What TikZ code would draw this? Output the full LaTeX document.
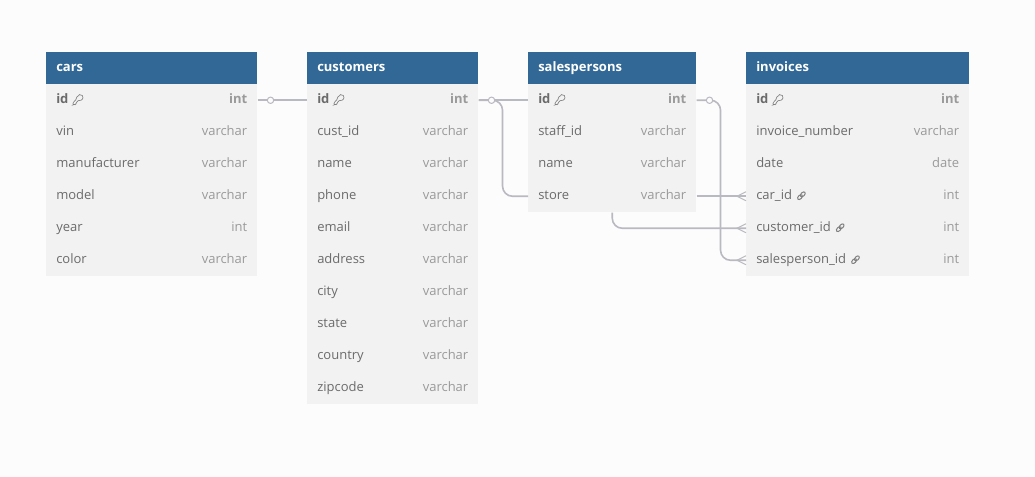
\documentclass[tikz,border=0pt]{standalone}
\usepackage{fontspec}
\setmainfont{Open Sans}
\definecolor{pagebg}{HTML}{FCFCFC}
\definecolor{headblue}{HTML}{316896}
\definecolor{rowbg}{HTML}{F2F2F2}
\definecolor{nametxt}{HTML}{6B6B6B}
\definecolor{typetxt}{HTML}{9A9A9A}
\definecolor{wire}{HTML}{B9B9C1}
\definecolor{iconcol}{HTML}{808080}
\tikzset{
  x=0.75pt,y=-0.75pt,
  headbox/.style={fill=headblue,draw=none,inner sep=0pt,anchor=north west,minimum height=24pt},
  rowbox/.style={fill=rowbg,draw=none,inner sep=0pt,anchor=north west,minimum height=24pt},
  headtxt/.style={anchor=base west,inner sep=0pt,text=white,font=\fontsize{9.75}{12}\selectfont\bfseries},
  nametxtst/.style={anchor=base west,inner sep=0pt,text=nametxt,font=\fontsize{9.75}{12}\selectfont},
  typetxtst/.style={anchor=base east,inner sep=0pt,text=typetxt,font=\fontsize{9.75}{12}\selectfont},
  pkname/.style={nametxtst,font=\fontsize{9.75}{12}\selectfont\bfseries},
  pktype/.style={typetxtst,font=\fontsize{9.75}{12}\selectfont\bfseries},
  wireline/.style={draw=wire,line width=1.2pt,rounded corners=7.5pt},
  crowline/.style={draw=wire,line width=0.75pt},
  ringmark/.style={circle,draw=wire,fill=pagebg,line width=0.75pt,minimum size=4.8pt,inner sep=0pt},
  keyicon/.pic={
    \draw[iconcol,line width=0.5pt,rounded corners=0.6pt] (1.4,-4.4) .. controls (3.4,-5.6) and (5.6,-3.6) .. (4.6,-1.2) .. controls (3.8,0.6) and (1.8,0.8) .. (0.8,0.4) -- (-2,3) -- (-2,4.6) -- (-3.8,4.6) -- (-4.8,5.2) -- (-5.2,3.2) -- (-1.6,-0.6) .. controls (-2,-2.2) and (-0.4,-3.8) .. (1.4,-4.4) -- cycle;
  },
  linkicon/.pic={
    \draw[iconcol,line width=0.75pt,rotate=45] (-2,0) ellipse[x radius=2.9,y radius=1.8];
    \draw[iconcol,line width=0.75pt,rotate=45] (2,0) ellipse[x radius=2.9,y radius=1.8];
  }
}
% #1 table id, #2 left x, #3 top y, #4 width, #5 title
\newcommand{\tablehead}[5]{%
  \node[headbox,minimum width=#4*0.75pt] (#1-h) at (#2,#3) {};
  \node[headtxt] (#1-t) at ([xshift=7.5pt,yshift=-2.4pt]#1-h.west) {#5};
}
% #1 table id, #2 left x, #3 top y, #4 width, #5 row number, #6 name style, #7 type style, #8 name, #9 type
\newcommand{\tablerow}[9]{%
  \node[rowbox,minimum width=#4*0.75pt] (#1-r#5) at (#2,#3+32*#5) {};
  \node[#6] (#1-n#5) at ([xshift=7.5pt,yshift=-2.6pt]#1-r#5.west) {#8};
  \node[#7] (#1-y#5) at ([xshift=-7.5pt,yshift=-2.6pt]#1-r#5.east) {#9};
}
\begin{document}
\begin{tikzpicture}
\useasboundingbox[fill=pagebg] (0,0) rectangle (1035,477);

% cars
\tablehead{cars}{46}{52}{211}{cars}
\tablerow{cars}{46}{52}{211}{1}{pkname}{pktype}{id}{int}
\foreach \nm/\ty [count=\i from 2] in {vin/varchar,manufacturer/varchar,model/varchar,year/int,color/varchar}
  {\tablerow{cars}{46}{52}{211}{\i}{nametxtst}{typetxtst}{\nm}{\ty}}

% customers
\tablehead{customers}{307}{52}{171}{customers}
\tablerow{customers}{307}{52}{171}{1}{pkname}{pktype}{id}{int}
\foreach \nm/\ty [count=\i from 2] in {cust\_id/varchar,name/varchar,phone/varchar,email/varchar,address/varchar,city/varchar,state/varchar,country/varchar,zipcode/varchar}
  {\tablerow{customers}{307}{52}{171}{\i}{nametxtst}{typetxtst}{\nm}{\ty}}

% salespersons
\tablehead{sales}{528}{52}{168}{salespersons}
\tablerow{sales}{528}{52}{168}{1}{pkname}{pktype}{id}{int}
\foreach \nm/\ty [count=\i from 2] in {staff\_id/varchar,name/varchar,store/varchar}
  {\tablerow{sales}{528}{52}{168}{\i}{nametxtst}{typetxtst}{\nm}{\ty}}

% invoices
\tablehead{inv}{746}{52}{223}{invoices}
\tablerow{inv}{746}{52}{223}{1}{pkname}{pktype}{id}{int}
\foreach \nm/\ty [count=\i from 2] in {invoice\_number/varchar,date/date,car\_id/int,customer\_id/int,salesperson\_id/int}
  {\tablerow{inv}{746}{52}{223}{\i}{nametxtst}{typetxtst}{\nm}{\ty}}

% icons
\foreach \t in {cars,customers,sales,inv}
  \pic at ([xshift=7pt,yshift=3pt]\t-n1.base east) {keyicon};
\foreach \i in {4,5,6}
  \pic at ([xshift=6.8pt,yshift=3pt]inv-n\i.base east) {linkicon};

% connectors
\draw[wireline] (cars-r1.east) -- (customers-r1.west);
\node[ringmark] (ringa) at ([xshift=9.75pt]cars-r1.east) {};
\draw[wireline] (customers-r1.east) -- (sales-r1.west);
\draw[wireline] (customers-r1.east) -- ([xshift=18pt]customers-r1.east) |- (sales-r4.west);
\node[ringmark] (ringb) at ([xshift=9.75pt]customers-r1.east) {};
\draw[wireline] (sales-r1.east) -- ([xshift=18pt]sales-r1.east) |- (inv-r6.west);
\node[ringmark] (ringc) at ([xshift=9.75pt]sales-r1.east) {};
\draw[wireline] (sales-r4.east) -- (inv-r4.west);
\draw[wireline] (sales-r4.south) |- (inv-r5.west);

% crow's feet
\foreach \i in {4,5,6}{
  \draw[crowline] ([yshift=-3.4pt]inv-r\i.west) -- ([xshift=-6.75pt]inv-r\i.west) -- ([yshift=3.4pt]inv-r\i.west);
}
\end{tikzpicture}
\end{document}
